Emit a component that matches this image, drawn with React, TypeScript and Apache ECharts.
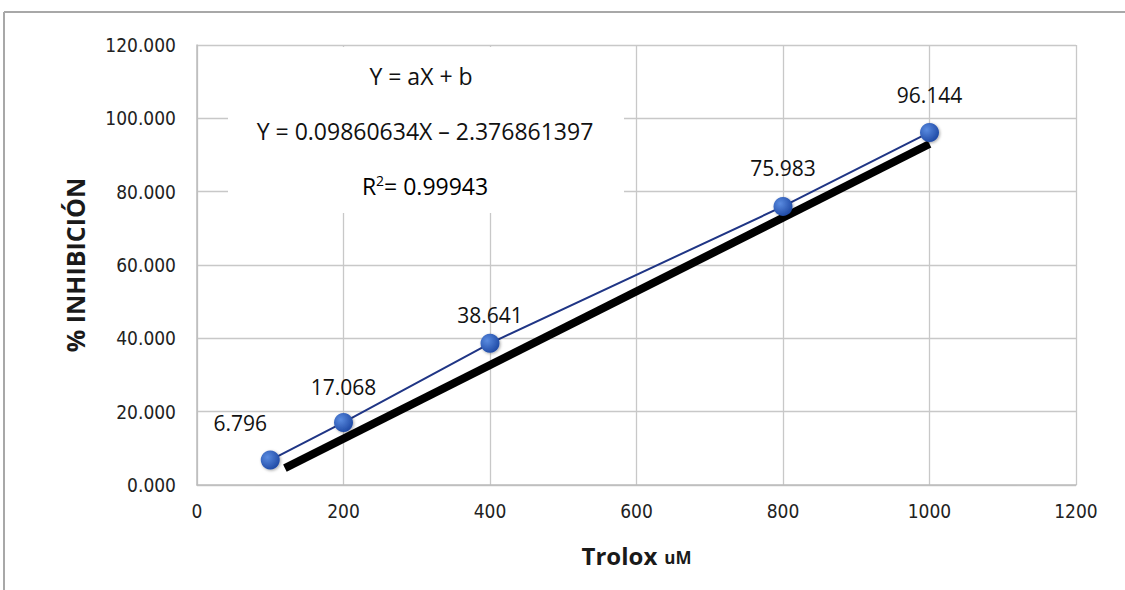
import React, { useEffect, useRef } from "react";
import * as echarts from "echarts";

const xValues = [100, 200, 400, 800, 1000];
const inhibition = [6.796, 17.068, 38.641, 75.983, 96.144];
const labelOffsetsX = [-30, 0, 0, 0, 0];
const labelOffsetsY = [-37, -35, -28, -38, -37];
const trendLine = [
  [120, 4.6],
  [1000, 93],
];
const xTicks = [0, 200, 400, 600, 800, 1000, 1200];
const yTicks = [0, 20, 40, 60, 80, 100, 120];
const eqLines = ["Y = aX + b", "Y = 0.09860634X – 2.376861397", "0.99943"];

const FONT = "'Open Sans', Lato, sans-serif";
const TICK_FONT = "'Liberation Sans Narrow', 'DejaVu Sans Condensed', sans-serif";

export default function App() {
  const ref = useRef<HTMLDivElement>(null);
  useEffect(() => {
    if (!ref.current) return;
    const chart = echarts.init(ref.current, null, { renderer: "svg" });
    const markerColor = new echarts.graphic.RadialGradient(0.35, 0.35, 0.75, [
      { offset: 0, color: "#5A8BE0" },
      { offset: 1, color: "#1A44A0" },
    ]);
    chart.setOption({
      animation: false,
      backgroundColor: "#ffffff",
      textStyle: { fontFamily: FONT },
      grid: { left: 197, right: 49, top: 45, bottom: 105, containLabel: false },
      xAxis: {
        type: "value",
        min: xTicks[0],
        max: xTicks[xTicks.length - 1],
        interval: 200,
        axisLine: { show: true, lineStyle: { color: "#BDBDBD", width: 1.5 } },
        axisTick: { show: false },
        splitLine: { show: true, lineStyle: { color: "#C8C8C8", width: 1.3 } },
        axisLabel: {
          color: "#222",
          fontSize: 19,
          margin: 16,
          fontFamily: TICK_FONT,
          formatter: (v: number) => String(v),
        },
        name: "{a|Trolox}{b|uM}",
        nameLocation: "middle",
        nameGap: 58,
        nameTextStyle: {
          rich: {
            a: { fontSize: 24, fontWeight: "bold", color: "#1a1a1a", fontFamily: FONT },
            b: { fontSize: 17, fontWeight: "bold", color: "#1a1a1a", fontFamily: FONT, padding: [5, 0, 0, 7] },
          },
        },
      },
      yAxis: {
        type: "value",
        min: yTicks[0],
        max: yTicks[yTicks.length - 1],
        interval: 20,
        axisLine: { show: true, lineStyle: { color: "#BDBDBD", width: 1.5 } },
        axisTick: { show: false },
        splitLine: { show: true, lineStyle: { color: "#C8C8C8", width: 1.3 } },
        axisLabel: {
          color: "#222",
          fontSize: 19,
          margin: 21,
          fontFamily: TICK_FONT,
          formatter: (v: number) => v.toFixed(3),
        },
        name: "% INHIBICIÓN",
        nameLocation: "middle",
        nameGap: 110,
        nameTextStyle: { fontSize: 25, fontWeight: "bold", color: "#1a1a1a", fontFamily: FONT },
      },
      graphic: [
        {
          type: "line",
          shape: { x1: 4, y1: 12, x2: 1125, y2: 12 },
          style: { stroke: "#A8A8A8", lineWidth: 2 },
        },
        {
          type: "line",
          shape: { x1: 4, y1: 12, x2: 4, y2: 590 },
          style: { stroke: "#A8A8A8", lineWidth: 2 },
        },
        {
          type: "rect",
          shape: { x: 228, y: 47, width: 396, height: 166 },
          style: { fill: "#ffffff" },
          z: 5,
        },
        {
          type: "text",
          x: 421,
          y: 76,
          z: 6,
          style: {
            text: eqLines[0],
            fontSize: 23,
            fontFamily: FONT,
            fill: "#111",
            align: "center",
            verticalAlign: "middle",
          },
        },
        {
          type: "text",
          x: 425,
          y: 131,
          z: 6,
          style: {
            text: eqLines[1],
            fontSize: 23,
            fontFamily: FONT,
            fill: "#111",
            align: "center",
            verticalAlign: "middle",
          },
        },
        {
          type: "text",
          x: 425,
          y: 186,
          z: 6,
          style: {
            text: "{r|R}{s|2}{r|= " + eqLines[2] + "}",
            fontFamily: FONT,
            align: "center",
            verticalAlign: "middle",
            rich: {
              r: { fontSize: 23, fontFamily: FONT, color: "#111" },
              s: { fontSize: 14, fontFamily: FONT, color: "#111", verticalAlign: "top", padding: [0, 0, 12, 0] },
            },
          },
        },
      ],
      series: [
        {
          type: "line",
          data: trendLine,
          symbol: "none",
          lineStyle: { color: "#000000", width: 8, cap: "butt" },
          z: 2,
          silent: true,
        },
        {
          type: "line",
          data: xValues.map((x, i) => ({
            value: [x, inhibition[i]],
            label: { offset: [labelOffsetsX[i], labelOffsetsY[i]] },
          })),
          symbol: "circle",
          symbolSize: 19,
          lineStyle: { color: "#1F3585", width: 2 },
          itemStyle: {
            color: markerColor,
            borderWidth: 0,
            shadowColor: "rgba(0,0,0,0.35)",
            shadowBlur: 3,
            shadowOffsetX: 1,
            shadowOffsetY: 1,
          },
          label: {
            show: true,
            position: "inside",
            fontSize: 21,
            fontFamily: FONT,
            color: "#111",
            formatter: (p: any) => p.value[1].toFixed(3),
          },
          z: 3,
        },
      ],
    });
    return () => chart.dispose();
  }, []);
  return (
    <div
      ref={ref}
      style={{ position: "fixed", left: 0, top: 0, width: 1125, height: 590 }}
    />
  );
}
